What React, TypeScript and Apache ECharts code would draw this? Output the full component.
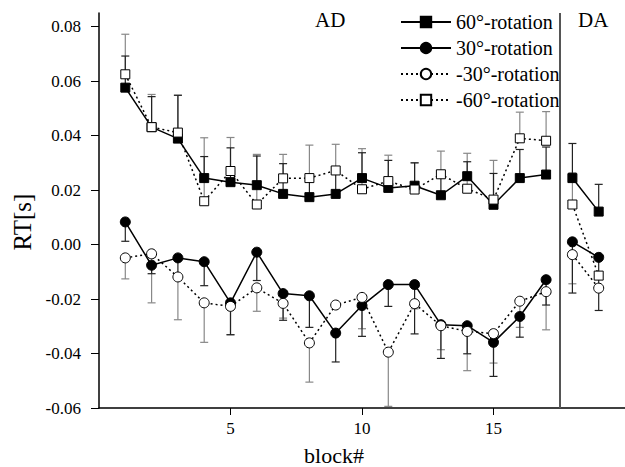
import React, { useEffect, useRef } from "react";
import * as echarts from "echarts";

const blocks = [1, 2, 3, 4, 5, 6, 7, 8, 9, 10, 11, 12, 13, 14, 15, 16, 17, 18, 19];
const seriesNames = ["60°-rotation", "30°-rotation", "-30°-rotation", "-60°-rotation"];
// mean RT per block (blocks 1-17 AD, 18-19 DA)
const rot60 = [0.0576, 0.0431, 0.0389, 0.0244, 0.0229, 0.0218, 0.0186, 0.0174, 0.0186, 0.0244, 0.0208, 0.0216, 0.0181, 0.0251, 0.0146, 0.0244, 0.0257, 0.0244, 0.0121];
const rot30 = [0.0083, -0.0076, -0.0049, -0.0063, -0.0214, -0.0028, -0.018, -0.0188, -0.0325, -0.0224, -0.0147, -0.0147, -0.0294, -0.0298, -0.0359, -0.0264, -0.0129, 0.001, -0.0047];
const rotM30 = [-0.0049, -0.0034, -0.0119, -0.0214, -0.0227, -0.0159, -0.0216, -0.0361, -0.0222, -0.0194, -0.0395, -0.0217, -0.0298, -0.0319, -0.0327, -0.0208, -0.0173, -0.0037, -0.016];
const rotM60 = [0.0625, 0.0431, 0.0411, 0.0159, 0.027, 0.0147, 0.0243, 0.0244, 0.0272, 0.0203, 0.0233, 0.0202, 0.0258, 0.0205, 0.0165, 0.039, 0.0381, 0.0147, -0.0114];
// error bar end values
const err60 = [0.0692, 0.0543, 0.0548, 0.0323, 0.0355, 0.0325, 0.0297, 0.0244, 0.0272, 0.0337, 0.0309, 0.03, 0.0258, 0.0304, 0.0261, 0.0349, 0.0358, 0.0371, 0.0221];
const errM60 = [0.0772, 0.0551, 0.0548, 0.0392, 0.0393, 0.0331, 0.0331, 0.0365, 0.0368, 0.0352, 0.0328, 0.03, 0.0343, 0.0335, 0.0309, 0.0486, 0.0488, 0.0264, -0.0114];
const err30 = [0.0012, -0.0107, -0.0119, -0.0151, -0.0331, -0.0132, -0.0278, -0.0304, -0.0431, -0.0337, -0.0227, -0.0328, -0.0418, -0.0401, -0.0484, -0.034, -0.0222, -0.0178, -0.0242];
const errM30 = [-0.0126, -0.0214, -0.0276, -0.0359, -0.0331, -0.0245, -0.027, -0.0505, -0.0222, -0.0309, -0.0594, -0.0236, -0.0386, -0.0463, -0.0435, -0.0304, -0.0313, -0.0144, -0.0162];
const yTicks = [-0.06, -0.04, -0.02, 0, 0.02, 0.04, 0.06, 0.08];
const xTicks = [5, 10, 15];
const phaseBoundary = 17.5;
const yMin = -0.06;

const FONT = "Liberation Serif";

function lineData(vals: number[]) {
  const out: any[] = [];
  vals.forEach((v, i) => {
    if (blocks[i] === 18) out.push([phaseBoundary, "-"]);
    out.push([blocks[i], v]);
  });
  return out;
}

function errData(vals: number[], ends: number[]) {
  return vals.map((v, i) => [blocks[i], v, ends[i]]);
}

function errSeries(vals: number[], ends: number[], color: string) {
  return {
    type: "custom",
    silent: true,
    z: 1,
    data: errData(vals, ends),
    renderItem: (params: any, api: any) => {
      const p0 = api.coord([api.value(0), api.value(1)]);
      const p1 = api.coord([api.value(0), api.value(2)]);
      const w = 4;
      const style = { stroke: color, lineWidth: 1.2 };
      return {
        type: "group",
        children: [
          { type: "line", shape: { x1: p0[0], y1: p0[1], x2: p1[0], y2: p1[1] }, style },
          { type: "line", shape: { x1: p1[0] - w, y1: p1[1], x2: p1[0] + w, y2: p1[1] }, style },
        ],
      };
    },
  };
}

export default function App() {
  const ref = useRef<HTMLDivElement>(null);
  useEffect(() => {
    if (!ref.current) return;
    const chart = echarts.init(ref.current, null, { renderer: "svg" });
    const lineBase = (name: string, vals: number[], symbol: string, fill: string, dotted: boolean) => ({
      name,
      type: "line",
      z: 3,
      data: lineData(vals),
      symbol,
      symbolSize: symbol === "rect" ? 9 : 10,
      connectNulls: false,
      lineStyle: { color: "#000", width: 1.5, type: dotted ? [2, 3] : "solid" },
      itemStyle: { color: fill, borderColor: "#000", borderWidth: 1 },
    });
    chart.setOption({
      animation: false,
      backgroundColor: "#fff",
      grid: { left: 99, top: 13, width: 528, height: 395, containLabel: false },
      legend: {
        data: seriesNames,
        orient: "vertical",
        left: 400,
        top: 12,
        padding: 0,
        itemWidth: 50,
        itemHeight: 13,
        itemGap: 6,
        textStyle: { fontFamily: FONT, fontSize: 20, color: "#000" },
      },
      xAxis: {
        type: "value",
        min: 0,
        max: 20,
        interval: 5,
        axisLine: { onZero: false, lineStyle: { color: "#000", width: 1.5 } },
        axisTick: { customValues: xTicks, length: 7, lineStyle: { color: "#000" } },
        axisLabel: { show: false },
        splitLine: { show: false },
      },
      yAxis: {
        type: "value",
        min: yMin,
        max: 0.085,
        interval: 0.02,
        axisLine: { show: true, onZero: false, lineStyle: { color: "#000", width: 1.5 } },
        axisTick: { show: true, customValues: yTicks, length: 8, lineStyle: { color: "#000" } },
        axisLabel: { show: false },
        splitLine: { show: false },
      },
      series: [
        errSeries(rotM60, errM60, "#888"),
        errSeries(rot60, err60, "#222"),
        errSeries(rotM30, errM30, "#888"),
        errSeries(rot30, err30, "#222"),
        {
          ...lineBase(seriesNames[0], rot60, "rect", "#000", false),
          markLine: {
            silent: true,
            symbol: "none",
            label: { show: false },
            lineStyle: { color: "#555", width: 2, type: "solid" },
            data: [{ xAxis: phaseBoundary }],
          },
        },
        lineBase(seriesNames[1], rot30, "circle", "#000", false),
        lineBase(seriesNames[2], rotM30, "circle", "#fff", true),
        lineBase(seriesNames[3], rotM60, "rect", "#fff", true),
      ],
    });

    // tick labels placed through the chart's own coordinate conversion
    const yLabels = yTicks.map((v) => {
      const p = chart.convertToPixel({ gridIndex: 0 }, [0, v]) as number[];
      return {
        type: "text",
        x: p[0] - 18,
        y: p[1],
        style: { text: v.toFixed(2), fontFamily: FONT, fontSize: 17, fill: "#000", align: "right", verticalAlign: "middle" },
      };
    });
    const xLabels = xTicks.map((v) => {
      const p = chart.convertToPixel({ gridIndex: 0 }, [v, yMin]) as number[];
      return {
        type: "text",
        x: p[0],
        y: p[1] + 12,
        style: { text: String(v), fontFamily: FONT, fontSize: 17, fill: "#000", align: "center", verticalAlign: "top" },
      };
    });

    chart.setOption({
      graphic: [
        { type: "text", left: 315, top: 9, style: { text: "AD", fontFamily: FONT, fontSize: 21, fill: "#000" } },
        { type: "text", left: 578, top: 9, style: { text: "DA", fontFamily: FONT, fontSize: 21, fill: "#000" } },
        {
          type: "text",
          x: 334,
          y: 455,
          style: { text: "block#", fontFamily: FONT, fontSize: 22, fill: "#000", align: "center", verticalAlign: "middle" },
        },
        {
          type: "text",
          x: 22,
          y: 222,
          rotation: Math.PI / 2,
          style: { text: "RT[s]", fontFamily: FONT, fontSize: 25, fill: "#000", align: "center", verticalAlign: "middle" },
        },
        ...yLabels,
        ...xLabels,
      ],
    });
    return () => chart.dispose();
  }, []);
  return <div ref={ref} style={{ position: "fixed", left: 0, top: 0, width: 625, height: 467 }} />;
}
